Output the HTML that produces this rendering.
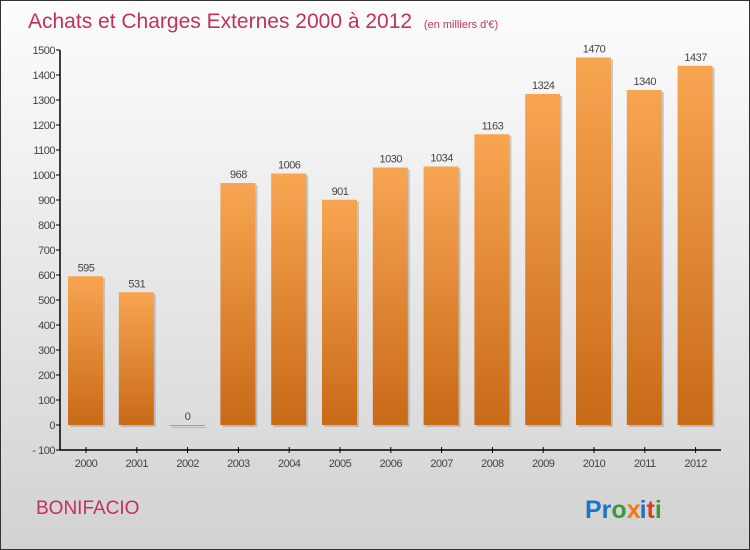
<!DOCTYPE html>
<html><head><meta charset="utf-8"><style>
body{margin:0}
#c{position:relative;width:748px;height:548px;border:1px solid #333;background:linear-gradient(#fdfdfd,#d2d2d2);overflow:hidden;font-family:"Liberation Sans",sans-serif}
</style></head><body>
<div id="c">
<svg width="748" height="548" id="svg">
<defs><linearGradient id="bg" x1="0" y1="0" x2="0" y2="1"><stop offset="0" stop-color="#f8a552"/><stop offset="1" stop-color="#c86a18"/></linearGradient></defs>
<text x="27" y="27" font-size="21" fill="#c2315e">Achats et Charges Externes 2000 à 2012 <tspan font-size="11" dx="6">(en milliers d'€)</tspan></text>
<text x="35" y="513" font-size="19" fill="#c2315e">BONIFACIO</text>
<text x="584" y="517" font-size="25" font-weight="bold"><tspan fill="#1a74c8">Pr</tspan><tspan fill="#3a9a3a">o</tspan><tspan fill="#f07a10">x</tspan><tspan fill="#1a74c8" dx="-1">i</tspan><tspan fill="#e03a1a">t</tspan><tspan fill="#3a9a3a">i</tspan></text>
<g id="g"></g>
</svg></div>
<script>
const years=["2000","2001","2002","2003","2004","2005","2006","2007","2008","2009","2010","2011","2012"];
const values=[595,531,0,968,1006,901,1030,1034,1163,1324,1470,1340,1437];
const yTicks=[-100,0,100,200,300,400,500,600,700,800,900,1000,1100,1200,1300,1400,1500];
const NS="http://www.w3.org/2000/svg";
const g=document.getElementById('g');
const y=v=>424-v*0.25, x=i=>85+i*50.8;
function mk(t,a){const e=document.createElementNS(NS,t);for(const k in a)e.setAttribute(k,a[k]);g.appendChild(e);return e;}
const ax=mk('path',{d:'M59,49V449H720',stroke:'#000',fill:'none','stroke-width':1.5});


yTicks.forEach(t=>{
 const l=mk('line',{x1:55,x2:59,y1:y(t),y2:y(t),stroke:'#000'});
 
 
 const tx=mk('text',{x:54,y:y(t)+4,'font-size':11,fill:'#444','text-anchor':'end','letter-spacing':'-0.5'});
 tx.textContent=t===-100?'- 100':t;
 
 
});
years.forEach((yr,i)=>{
 const cx=x(i),v=values[i];
 const l=mk('line',{x1:cx,x2:cx,y1:446,y2:452,stroke:'#000'});
 
 
 const t=mk('text',{x:cx,y:466,'font-size':11,fill:'#444','text-anchor':'middle','letter-spacing':'-0.5'});
 t.textContent=yr;
 
 
 const h=Math.max(y(0)-y(v),1);
 mk('rect',{x:cx-16,y:y(v)+2,width:35,height:h,fill:'#999',opacity:0.5});
 const b=mk('rect',{x:cx-18,y:y(v),width:35,height:h,fill:v?'url(#bg)':'#e08a3a'});
 
 
 const vl=mk('text',{x:cx,y:y(v)-5,'font-size':11,fill:'#444','text-anchor':'middle','letter-spacing':'-0.5'});
 vl.textContent=v;
 
 
});
</script>
</body></html>
